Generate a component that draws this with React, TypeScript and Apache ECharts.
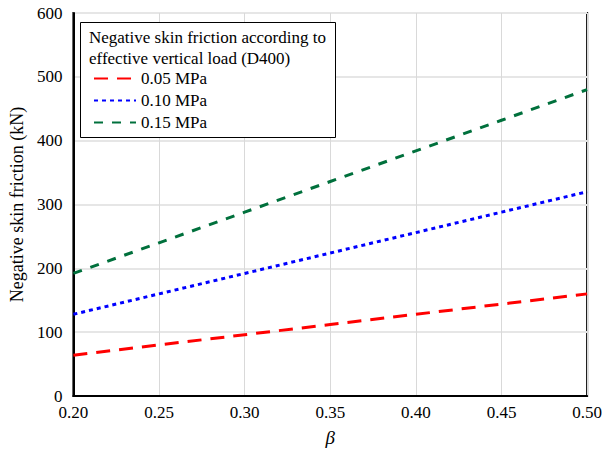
import React, { useEffect, useRef } from "react";
import * as echarts from "echarts";

const betas = [0.2, 0.25, 0.3, 0.35, 0.4, 0.45, 0.5];
const load005 = [64, 80, 96, 112, 128, 144, 160];
const load010 = [128, 160, 192, 224, 256, 288, 320];
const load015 = [192, 240, 288, 336, 384, 432, 480];
const seriesNames = ["0.05 MPa", "0.10 MPa", "0.15 MPa"];
const legendTitle = ["Negative skin friction according to", "effective vertical load (D400)"];

const FONT = "Liberation Serif";

export default function App() {
  const ref = useRef<HTMLDivElement>(null);
  useEffect(() => {
    if (!ref.current) return;
    const chart = echarts.init(ref.current, undefined, { renderer: "svg" });
    const mk = (vals: number[]) => betas.map((b, i) => [b, vals[i]]);
    chart.setOption({
      animation: false,
      textStyle: { fontFamily: FONT },
      grid: {
        left: 73,
        right: 16,
        top: 13,
        bottom: 55,
        show: true,
        borderColor: "#000",
        borderWidth: 2,
        backgroundColor: "#fff",
      },
      xAxis: {
        type: "value",
        min: 0.2,
        max: 0.5,
        interval: 0.05,
        name: "β",
        nameLocation: "middle",
        nameGap: 32,
        nameTextStyle: { fontFamily: FONT, fontSize: 19, fontStyle: "italic", color: "#000" },
        axisLine: { lineStyle: { color: "#000", width: 2 } },
        axisTick: { show: false },
        axisLabel: {
          fontFamily: FONT,
          fontSize: 17,
          color: "#000",
          margin: 8,
          formatter: (v: number) => v.toFixed(2),
        },
        splitLine: { show: true, lineStyle: { color: "#d9d9d9", width: 1 } },
      },
      yAxis: {
        type: "value",
        min: 0,
        max: 600,
        interval: 100,
        name: "Negative skin friction (kN)",
        nameLocation: "middle",
        nameGap: 47,
        nameTextStyle: { fontFamily: FONT, fontSize: 18, color: "#000" },
        axisLine: { show: true, lineStyle: { color: "#000", width: 2 } },
        axisTick: { show: false },
        axisLabel: { fontFamily: FONT, fontSize: 17, color: "#000", margin: 11 },
        splitLine: { show: true, lineStyle: { color: "#e6e6e6", width: 2 } },
      },
      legend: {
        orient: "vertical",
        left: 88,
        top: 65,
        z: 20,
        itemGap: 5,
        itemWidth: 42,
        itemHeight: 19,
        itemStyle: { opacity: 0 },
        textStyle: { fontFamily: FONT, fontSize: 17, color: "#000" },
        data: seriesNames.map((n) => ({ name: n })),
      },
      graphic: [
        {
          type: "rect",
          z: 10,
          shape: { x: 80.5, y: 22.5, width: 255, height: 115 },
          style: { fill: "#fff", stroke: "#000", lineWidth: 1 },
        },
        {
          type: "text",
          z: 11,
          left: 89,
          top: 27,
          style: {
            text: legendTitle.join("\n"),
            fontFamily: FONT,
            fontSize: 17,
            fill: "#000",
            lineHeight: 21,
          },
        },
      ],
      series: [
        {
          name: seriesNames[0],
          type: "line",
          data: mk(load005),
          showSymbol: false,
          symbol: "none",
          lineStyle: { color: "#ff0000", width: 3, type: [14, 9] },
          itemStyle: { color: "#ff0000" },
        },
        {
          name: seriesNames[1],
          type: "line",
          data: mk(load010),
          showSymbol: false,
          symbol: "none",
          lineStyle: { color: "#0000ff", width: 3, type: [4, 4] },
          itemStyle: { color: "#0000ff" },
        },
        {
          name: seriesNames[2],
          type: "line",
          data: mk(load015),
          showSymbol: false,
          symbol: "none",
          lineStyle: { color: "#00703c", width: 3, type: [9, 9] },
          itemStyle: { color: "#00703c" },
        },
      ],
    });
    return () => chart.dispose();
  }, []);
  return (
    <div
      ref={ref}
      style={{ position: "fixed", left: 0, top: 0, width: 605, height: 452, background: "#fff" }}
    />
  );
}
